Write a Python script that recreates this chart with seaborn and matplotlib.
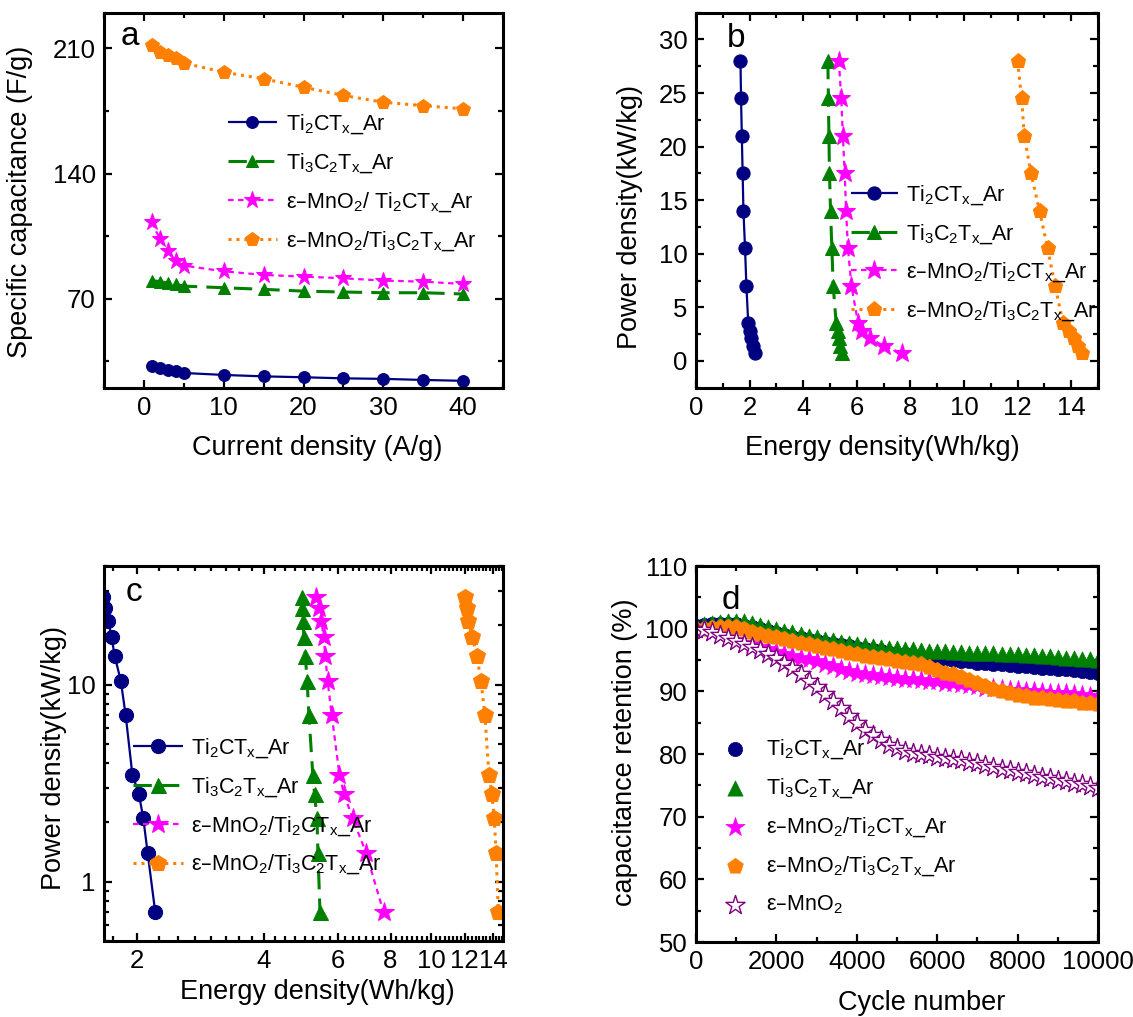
import numpy as np
import pandas as pd
import matplotlib
matplotlib.use('Agg')
import matplotlib.pyplot as plt
import seaborn as sns
from matplotlib.ticker import MultipleLocator, FixedLocator, FixedFormatter, NullFormatter, LogLocator

# ---------------- data ----------------
current = [1, 2, 3, 4, 5, 10, 15, 20, 25, 30, 35, 40]
cap_ti2c = [32.1, 31.0, 30.3, 29.6, 28.4, 27.3, 26.5, 26.0, 25.4, 25.1, 24.5, 24.0]
cap_ti3c2 = [80.1, 79.5, 78.7, 78.0, 77.0, 76.1, 75.2, 74.2, 73.7, 73.3, 73.3, 72.6]
cap_mno2_ti2c = [112.7, 103.4, 96.5, 90.9, 88.5, 85.3, 83.3, 82.3, 81.4, 80.1, 79.5, 78.2]
cap_mno2_ti3c2 = [211.7, 208.0, 206.6, 204.8, 201.8, 196.7, 193.0, 188.3, 183.7, 179.9, 178.0, 176.2]

power = [28, 24.5, 21, 17.5, 14, 10.5, 7, 3.5, 2.8, 2.1, 1.4, 0.7]
e_ti2c = [1.66, 1.68, 1.71, 1.74, 1.77, 1.83, 1.88, 1.95, 2.02, 2.07, 2.12, 2.21]
e_ti3c2 = [4.92, 4.94, 4.96, 4.98, 5.02, 5.07, 5.12, 5.23, 5.28, 5.35, 5.38, 5.44]
e_mno2_ti2c = [5.33, 5.42, 5.48, 5.55, 5.60, 5.67, 5.80, 6.05, 6.20, 6.50, 7.00, 7.70]
e_mno2_ti3c2 = [12.0, 12.15, 12.25, 12.5, 12.82, 13.12, 13.4, 13.7, 13.92, 14.1, 14.25, 14.42]

cycles = list(range(0, 10001, 200))
ret_ti2c = [100.5, 100.6, 100.7, 100.8, 100.8, 100.7, 100.5, 100.2, 99.9, 99.6,
            99.3, 99.0, 98.7, 98.5, 98.2, 98.0, 97.8, 97.6, 97.4, 97.2,
            97.0, 96.8, 96.6, 96.4, 96.2, 96.0, 95.9, 95.7, 95.5, 95.4,
            95.2, 95.1, 95.0, 94.9, 94.8, 94.6, 94.5, 94.4, 94.3, 94.2,
            94.1, 94.0, 93.9, 93.8, 93.7, 93.6, 93.5, 93.4, 93.3, 93.1,
            93.0]
ret_ti3c2 = [100.6, 100.8, 100.9, 101.1, 101.2, 101.3, 101.2, 100.9, 100.6, 100.3,
             100.0, 99.7, 99.4, 99.1, 98.9, 98.6, 98.4, 98.2, 97.9, 97.7,
             97.5, 97.4, 97.2, 97.1, 97.0, 96.9, 96.8, 96.7, 96.6, 96.5,
             96.4, 96.4, 96.3, 96.3, 96.2, 96.2, 96.1, 96.1, 96.0, 96.0,
             95.9, 95.8, 95.8, 95.7, 95.6, 95.5, 95.4, 95.3, 95.2, 95.1,
             95.0]
ret_mno2_ti2c = [100.0, 99.8, 99.4, 99.0, 98.6, 98.2, 97.8, 97.5, 97.1, 96.7,
                 96.3, 96.0, 95.7, 95.4, 95.1, 94.8, 94.4, 94.0, 93.6, 93.3,
                 93.0, 92.8, 92.6, 92.4, 92.3, 92.2, 92.0, 91.9, 91.8, 91.7,
                 91.6, 91.4, 91.3, 91.1, 91.0, 90.8, 90.6, 90.5, 90.4, 90.3,
                 90.2, 90.1, 90.0, 89.9, 89.8, 89.8, 89.7, 89.6, 89.4, 89.3,
                 89.2]
ret_mno2_ti3c2 = [99.9, 100.0, 100.1, 100.2, 100.3, 100.3, 99.9, 99.5, 99.2, 98.9,
                  98.6, 98.4, 98.1, 97.8, 97.6, 97.3, 97.0, 96.7, 96.4, 96.1,
                  95.9, 95.7, 95.5, 95.3, 95.1, 94.9, 94.7, 94.5, 94.3, 93.9,
                  93.4, 93.0, 92.7, 92.3, 91.8, 91.3, 90.8, 90.4, 90.0, 89.7,
                  89.4, 89.2, 89.0, 88.9, 88.8, 88.6, 88.5, 88.4, 88.2, 88.1,
                  88.0]
ret_mno2 = [100.0, 99.8, 99.4, 99.0, 98.5, 98.1, 97.6, 97.1, 96.6, 96.0,
            95.4, 94.6, 93.7, 92.7, 91.7, 90.7, 89.6, 88.5, 87.3, 86.1,
            84.9, 83.9, 83.0, 82.2, 81.5, 80.9, 80.5, 80.2, 80.0, 79.8,
            79.6, 79.4, 79.2, 79.0, 78.8, 78.5, 78.2, 77.9, 77.6, 77.4,
            77.2, 76.9, 76.7, 76.4, 76.2, 75.9, 75.7, 75.4, 75.2, 74.9,
            74.6]

lab_ti2c = r'Ti$_2$CT$_x$_Ar'
lab_ti3c2 = r'Ti$_3$C$_2$T$_x$_Ar'
lab_mno2_ti2c_a = '\u03b5\u2013MnO$_2$/ Ti$_2$CT$_x$_Ar'
lab_mno2_ti2c = '\u03b5\u2013MnO$_2$/Ti$_2$CT$_x$_Ar'
lab_mno2_ti3c2 = '\u03b5\u2013MnO$_2$/Ti$_3$C$_2$T$_x$_Ar'
lab_mno2 = '\u03b5\u2013MnO$_2$'

c_blue, c_green, c_mag, c_orange, c_purple = '#000080', '#008000', '#FF00FF', '#FF8000', '#800080'

# ---------------- style ----------------
sns.set_style('ticks')
plt.rcParams['font.family'] = ['Liberation Sans', 'DejaVu Sans']
plt.rcParams['mathtext.default'] = 'regular'
plt.rcParams['axes.linewidth'] = 2.0
for k in ('text.color', 'axes.labelcolor', 'xtick.color', 'ytick.color', 'axes.edgecolor'):
    plt.rcParams[k] = 'black'

TICK = 18.5
LAB = 19.5
LEG = 15.5
LET = 24

fig = plt.figure(figsize=(11.33, 10.17), dpi=100)
ax_a = fig.add_axes([0.0918, 0.6185, 0.3522, 0.369])
ax_b = fig.add_axes([0.6143, 0.6188, 0.3548, 0.3687])
ax_c = fig.add_axes([0.0918, 0.0747, 0.3522, 0.3687])
ax_d = fig.add_axes([0.6143, 0.0737, 0.3548, 0.3697])

def style(ax):
    ax.tick_params(which='both', direction='in', top=True, right=True, labelsize=TICK)
    ax.tick_params(which='major', length=6, width=1.6, pad=6)
    ax.tick_params(which='minor', length=3.5, width=1.6)
    for s in ax.spines.values():
        s.set_linewidth(2.2)
        s.set_color('black')

series_lc = [
    (c_blue, 'o', (0, ()), 8.5, 1.6),
    (c_green, '^', (0, (6, 3)), 9.0, 2.2),
    (c_mag, '*', (0, (2.5, 2.0)), 12.5, 1.6),
    (c_orange, 'p', (0, (1, 1.6)), 10.0, 2.2),
]

# ---------------- panel a ----------------
caps = [cap_ti2c, cap_ti3c2, cap_mno2_ti2c, cap_mno2_ti3c2]
labs_a = [lab_ti2c, lab_ti3c2, lab_mno2_ti2c_a, lab_mno2_ti3c2]
for vals, lab, (col, mk, ls, ms, lw) in zip(caps, labs_a, series_lc):
    sns.lineplot(x=current, y=vals, ax=ax_a, color=col, marker=mk, markersize=ms,
                 markeredgecolor=col, linestyle=ls, linewidth=lw, label=lab,
                 sort=False, estimator=None)
ax_a.set_xlim(-5, 45)
ax_a.set_ylim(20, 230)
ax_a.xaxis.set_major_locator(MultipleLocator(10))
ax_a.xaxis.set_minor_locator(MultipleLocator(5))
ax_a.yaxis.set_major_locator(FixedLocator([70, 140, 210]))
ax_a.yaxis.set_minor_locator(FixedLocator([35, 105, 175]))
style(ax_a)
ax_a.set_xlabel('Current density (A/g)', fontsize=LAB)
ax_a.set_ylabel('Specific capacitance (F/g)', fontsize=LAB)
ax_a.xaxis.set_label_coords(0.533, -0.125)
ax_a.yaxis.set_label_coords(-0.178, 0.496)
ax_a.text(0.042, 0.915, 'a', transform=ax_a.transAxes, fontsize=LET, va='baseline')
ax_a.legend(loc='upper left', bbox_to_anchor=(0.31, 0.735), frameon=False, fontsize=LEG,
            handlelength=2.3, handletextpad=0.4, labelspacing=0.72, borderpad=0, borderaxespad=0)

# ---------------- panel b & c ----------------
energies = [e_ti2c, e_ti3c2, e_mno2_ti2c, e_mno2_ti3c2]
labs_bc = [lab_ti2c, lab_ti3c2, lab_mno2_ti2c, lab_mno2_ti3c2]
for ax, msc in ((ax_b, 1.12), (ax_c, 1.2)):
    for vals, lab, (col, mk, ls, ms, lw) in zip(energies, labs_bc, series_lc):
        sns.lineplot(x=vals, y=power, ax=ax, color=col, marker=mk, markersize=ms * msc,
                     markeredgecolor=col, linestyle=ls, linewidth=lw, label=lab,
                     sort=False, estimator=None)

ax_b.set_xlim(0, 15)
ax_b.set_ylim(-2.5, 32.5)
ax_b.xaxis.set_major_locator(MultipleLocator(2))
ax_b.xaxis.set_minor_locator(MultipleLocator(1))
ax_b.yaxis.set_major_locator(MultipleLocator(5))
ax_b.yaxis.set_minor_locator(MultipleLocator(2.5))
style(ax_b)
ax_b.set_xlabel('Energy density(Wh/kg)', fontsize=LAB)
ax_b.set_ylabel('Power density(kW/kg)', fontsize=LAB)
ax_b.xaxis.set_label_coords(0.463, -0.125)
ax_b.yaxis.set_label_coords(-0.133, 0.454)
ax_b.text(0.077, 0.909, 'b', transform=ax_b.transAxes, fontsize=LET, va='baseline')
ax_b.legend(loc='upper left', bbox_to_anchor=(0.385, 0.545), frameon=False, fontsize=LEG,
            handlelength=2.2, handletextpad=0.35, labelspacing=0.7, borderpad=0, borderaxespad=0)

ax_c.set_xscale('log')
ax_c.set_yscale('log')
ax_c.set_xlim(1.67, 14.8)
ax_c.set_ylim(0.5, 40)
xt = [2, 4, 6, 8, 10, 12, 14]
ax_c.xaxis.set_major_locator(FixedLocator(xt))
ax_c.xaxis.set_major_formatter(FixedFormatter([str(v) for v in xt]))
ax_c.xaxis.set_minor_locator(FixedLocator([v / 4 for v in range(7, 60) if v % 8 != 0]))
ax_c.xaxis.set_minor_formatter(NullFormatter())
ax_c.yaxis.set_minor_locator(LogLocator(base=10, subs=np.arange(2, 10)))
ax_c.yaxis.set_minor_formatter(NullFormatter())
ax_c.yaxis.set_major_locator(FixedLocator([1, 10]))
ax_c.yaxis.set_major_formatter(FixedFormatter(['1', '10']))
style(ax_c)
ax_c.set_xlabel('Energy density(Wh/kg)', fontsize=LAB)
ax_c.set_ylabel('Power density(kW/kg)', fontsize=LAB)
ax_c.xaxis.set_label_coords(0.535, -0.100)
ax_c.yaxis.set_label_coords(-0.092, 0.488)
ax_c.text(0.053, 0.907, 'c', transform=ax_c.transAxes, fontsize=LET, va='baseline')
ax_c.legend(loc='upper left', bbox_to_anchor=(0.073, 0.545), frameon=False, fontsize=LEG,
            handlelength=2.3, handletextpad=0.4, labelspacing=0.7, borderpad=0, borderaxespad=0)

# ---------------- panel d ----------------
rets = [ret_ti2c, ret_ti3c2, ret_mno2_ti2c, ret_mno2_ti3c2]
labs_d = [lab_ti2c, lab_ti3c2, lab_mno2_ti2c, lab_mno2_ti3c2]
d_marks = [('o', 105), ('^', 120), ('*', 210), ('p', 140)]
cols = [c_blue, c_green, c_mag, c_orange]
for vals, lab, col, (mk, s) in zip(rets, labs_d, cols, d_marks):
    sns.scatterplot(x=cycles, y=vals, ax=ax_d, marker=mk, s=s, color=col,
                    edgecolor=col, linewidth=0.5, label=lab)
sns.scatterplot(x=cycles, y=ret_mno2, ax=ax_d, marker='*', s=210, facecolor='white',
                edgecolor=c_purple, linewidth=1.0, label=lab_mno2)
ax_d.set_xlim(0, 10000)
ax_d.set_ylim(50, 110)
ax_d.xaxis.set_major_locator(MultipleLocator(2000))
ax_d.xaxis.set_minor_locator(MultipleLocator(1000))
ax_d.yaxis.set_major_locator(MultipleLocator(10))
ax_d.yaxis.set_minor_locator(MultipleLocator(5))
style(ax_d)
ax_d.set_xlabel('Cycle number', fontsize=LAB)
ax_d.set_ylabel('capacitance retention (%)', fontsize=LAB)
ax_d.xaxis.set_label_coords(0.562, -0.127)
ax_d.yaxis.set_label_coords(-0.1445, 0.506)
ax_d.text(0.064, 0.887, 'd', transform=ax_d.transAxes, fontsize=LET, va='baseline')
ax_d.legend(loc='upper left', bbox_to_anchor=(0.069, 0.545), frameon=False, fontsize=LEG,
            handlelength=1.0, handletextpad=0.95, labelspacing=0.72, borderpad=0,
            borderaxespad=0, scatterpoints=1)

fig.savefig('out.png', dpi=100)
